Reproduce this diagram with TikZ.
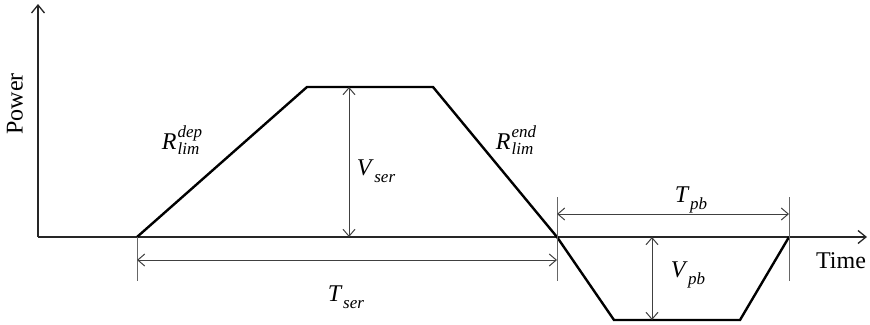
\documentclass[tikz,border=0pt]{standalone}
\usepackage{fontspec}
\setmainfont{Liberation Serif}
\usetikzlibrary{arrows.meta}
\newcommand\scrfont{\fontsize{17}{17}\selectfont\itshape}
\newcommand\labSub[2]{\textit{#1}\kern0.5pt\raisebox{-0.28em}{\scrfont #2}}
\newcommand\labSubSup[3]{\textit{#1}\kern1pt{\scrfont\setbox0\hbox{#2}\setbox2\hbox{#3}\rlap{\raisebox{-0.3em}{\box0}}\raisebox{0.72em}{\box2}}}
\begin{document}
\begin{tikzpicture}[x=1pt,y=-1pt,
  axis/.style={line width=1.3pt,black!85,-{Straight Barb[length=8pt,width=13pt]}},
  curve/.style={line width=2.4pt,black,line join=miter},
  dim/.style={line width=1pt,black!75,{Straight Barb[length=7pt,width=12pt]}-{Straight Barb[length=7pt,width=12pt]}},
  tick/.style={line width=1pt,black!60},
  lbl/.style={font=\fontsize{24}{28}\selectfont,inner sep=0pt}]
\useasboundingbox (0,0) rectangle (870,324);
% key points
\coordinate (O) at (38,237);
\coordinate (Ytop) at (38,4);
\coordinate (Xend) at (867,237);
\coordinate (A) at (137,237);
\coordinate (B) at (307,87);
\coordinate (C) at (433,87);
\coordinate (D) at (557,237);
\coordinate (E) at (614,320);
\coordinate (F) at (740,320);
\coordinate (G) at (789,237);
% axes
\draw[axis] (O) -- (Ytop);
\draw[axis] (O) -- (Xend);
% power curve
\draw[curve] (A) -- (B) -- (C) -- (D) -- (E) -- (F) -- (G);
% extension ticks
\coordinate (At) at (137,281);
\coordinate (Dtop) at (557,197);
\coordinate (Dbot) at (557,281);
\coordinate (Gtop) at (789,197);
\coordinate (Gbot) at (789,281);
\draw[tick] (A) -- (At);
\draw[tick] (Dtop) -- (Dbot);
\draw[tick] (Gtop) -- (Gbot);
% dimension arrows
\coordinate (Vs1) at (349,87);
\coordinate (Vs2) at (349,237);
\draw[dim] (Vs1) -- (Vs2);
\coordinate (Ts1) at (137,260);
\coordinate (Ts2) at (557,260);
\draw[dim] (Ts1) -- (Ts2);
\coordinate (Tp1) at (557,214);
\coordinate (Tp2) at (789,214);
\draw[dim] (Tp1) -- (Tp2);
\coordinate (Vp1) at (652,237);
\coordinate (Vp2) at (652,320);
\draw[dim] (Vp1) -- (Vp2);
% labels
\node[lbl,rotate=90] (power) at (15,104) {Power};
\node[lbl] (time) at (841,261) {Time};
\node[lbl] (rdep) at (182,140) {\labSubSup{R}{lim}{dep}};
\node[lbl] (rend) at (516,140) {\labSubSup{R}{lim}{end}};
\node[lbl] (vser) at (376,171) {\labSub{V}{ser}};
\node[lbl] (tser) at (346,297) {\labSub{T}{ser}};
\node[lbl] (tpb) at (691,200) {\labSub{T}{pb}};
\node[lbl] (vpb) at (688,275) {\labSub{V}{pb}};
\end{tikzpicture}
\end{document}
